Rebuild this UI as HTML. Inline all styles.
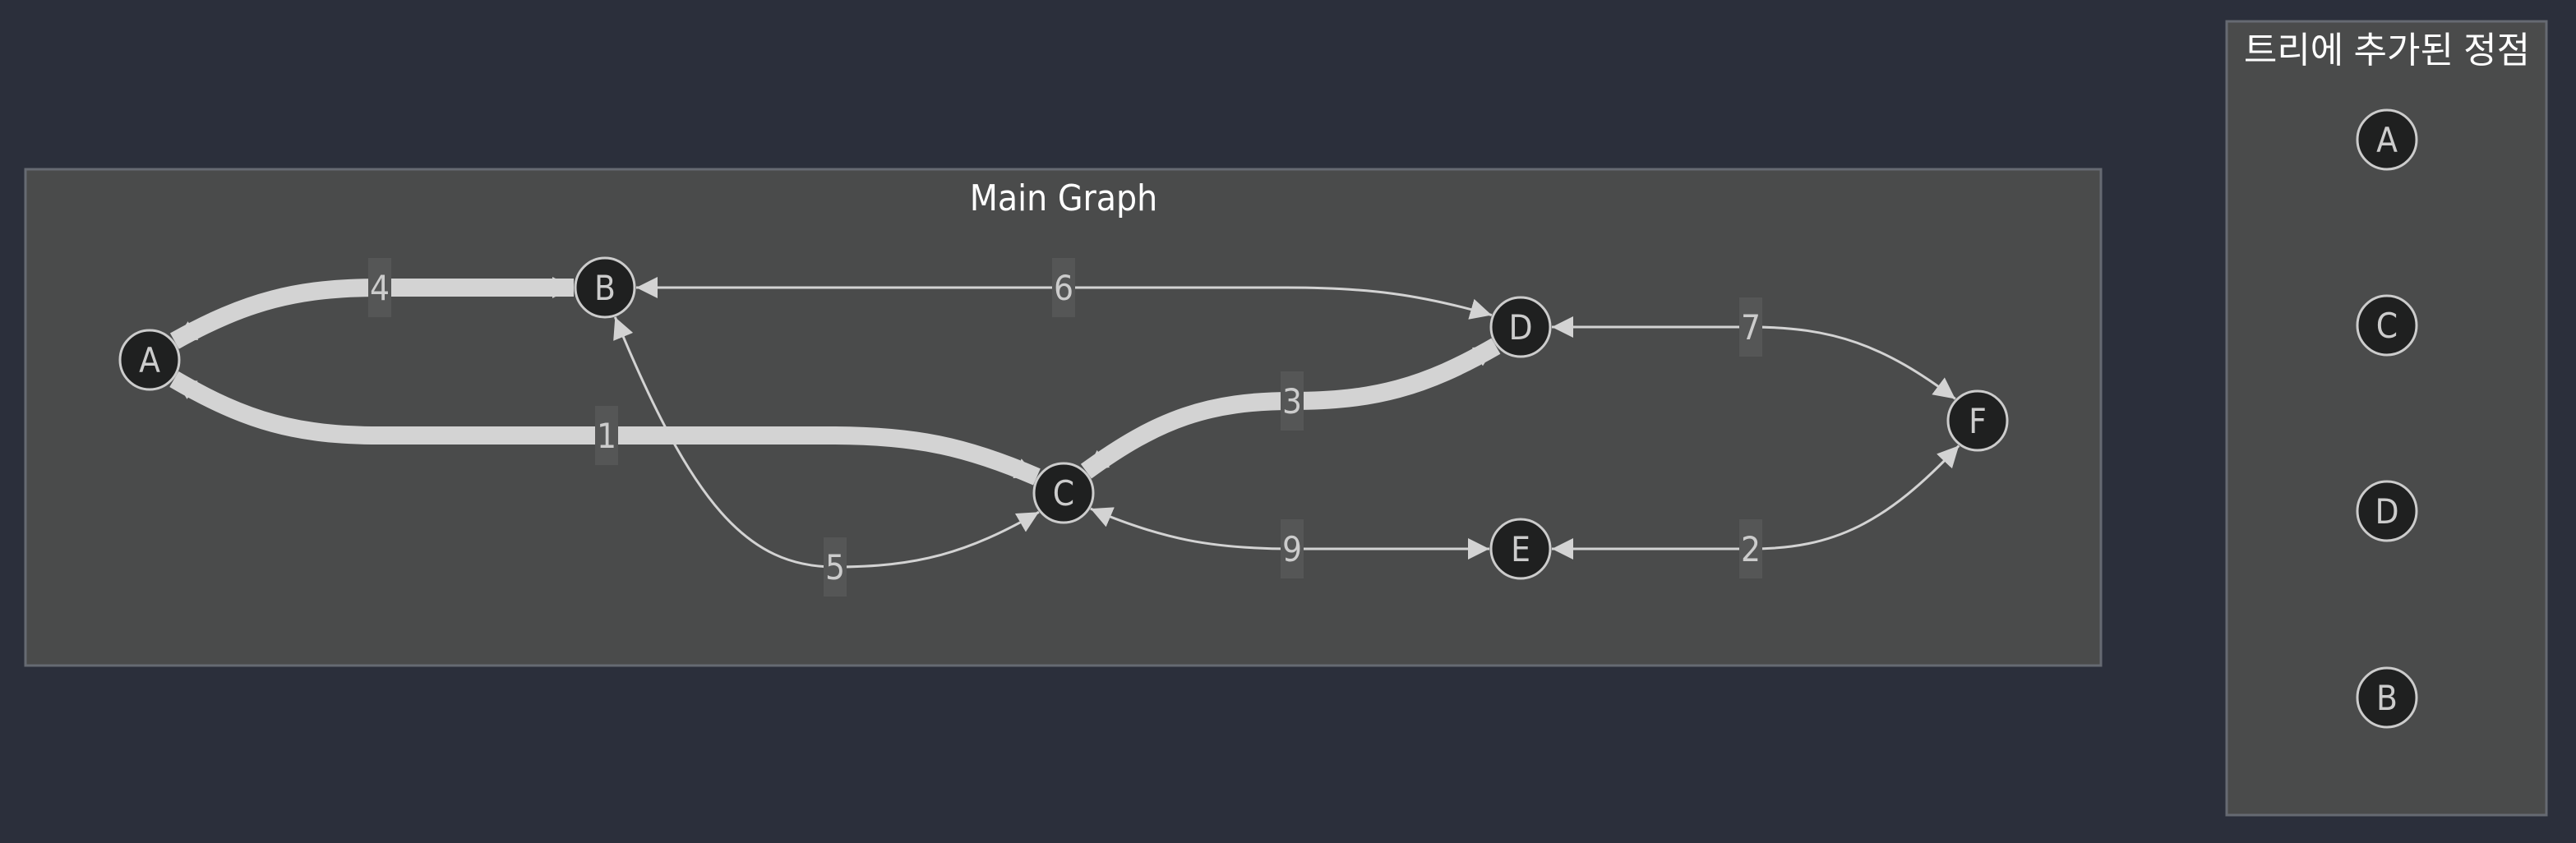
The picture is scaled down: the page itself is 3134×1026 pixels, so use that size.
<!DOCTYPE html>
<html><head><meta charset="utf-8">
<style>
html,body{margin:0;padding:0;background:#2b2f3b;}
svg{display:block;}
</style></head>
<body>
<svg id="chart" width="3134" height="1026" viewBox="0 0 3134 1026" xmlns="http://www.w3.org/2000/svg">
<defs>
<marker id="arr" markerUnits="userSpaceOnUse" viewBox="0 0 10 10" refX="10" refY="5" markerWidth="26" markerHeight="26" orient="auto-start-reverse">
<path d="M0,0 L10,5 L0,10 z" fill="#d3d3d3"/>
</marker>
</defs>
<rect x="0" y="0" width="3134" height="1026" fill="#2b2f3b"/>
<rect x="31" y="206" width="2525" height="604" fill="#4a4b4b" stroke="#666a72" stroke-width="3"/>
<text x="1294" y="256" text-anchor="middle" font-family="'DejaVu Sans Condensed', 'Liberation Sans Narrow', sans-serif" font-size="44" fill="#ffffff">Main Graph</text>
<rect x="2709" y="26" width="389" height="966" fill="#4a4b4b" stroke="#666a72" stroke-width="3"/>
<text x="2904" y="76" text-anchor="middle" font-family="'Liberation Sans', 'Noto Sans CJK KR', sans-serif" font-size="44" fill="#ffffff">트리에 추가된 정점</text>
<g id="edges"></g>
<g id="labels"></g>
<g id="nodes"></g>
<g id="tree"></g>
</svg>
<script>
const nodeIds = ['A','B','C','D','E','F'];
const nodeX = [182, 736, 1294, 1850, 1850, 2406];
const nodeY = [438, 350, 600, 398, 668, 512];
const edgeFrom = ['A','A','B','B','C','C','D','E'];
const edgeTo   = ['B','C','D','C','D','E','F','F'];
const edgeWeights = [4, 1, 6, 5, 3, 9, 7, 2];
const edgeInTree = [true, true, false, false, true, false, false, false];
const labelX = [462, 738, 1294, 1016, 1572, 1572, 2130, 2130];
const labelY = [350, 530, 350, 690, 488, 668, 398, 668];
const treeOrder = ['A','C','D','B'];
const treeY = [170, 396, 622, 849];

const NS='http://www.w3.org/2000/svg';
const R=36, CURVE=250;
function pos(id){const i=nodeIds.indexOf(id);return {x:nodeX[i],y:nodeY[i]};}
function mk(t,a){const e=document.createElementNS(NS,t);for(const k in a)e.setAttribute(k,a[k]);return e;}
function boundary(c,toward,off){const dx=toward.x-c.x,dy=toward.y-c.y,l=Math.hypot(dx,dy)||1;return {x:c.x+dx/l*off,y:c.y+dy/l*off};}
// node side -> label, curve then flat
function half(s,L){
  let dx=L.x-s.x; const sg=Math.sign(dx)||1;
  let end={x:Math.abs(dx)>CURVE+50? s.x+sg*CURVE : L.x, y:L.y};
  const cdx=end.x-s.x, dy=end.y-s.y;
  let d=`C ${s.x+cdx*0.35} ${s.y+dy*0.75}, ${s.x+cdx*0.6} ${end.y}, ${end.x} ${end.y}`;
  if(end.x!==L.x) d+=` L ${L.x} ${L.y}`;
  return d;
}
// label -> node side, flat then curve
function half2(L,t){
  let dx=t.x-L.x; const sg=Math.sign(dx)||1;
  let st={x:Math.abs(dx)>CURVE+50? t.x-sg*CURVE : L.x, y:L.y};
  let d='';
  if(st.x!==L.x) d+=`L ${st.x} ${st.y} `;
  const cdx=t.x-st.x, dy=t.y-st.y;
  d+=`C ${st.x+cdx*0.4} ${st.y}, ${st.x+cdx*0.65} ${st.y+dy*0.25}, ${t.x} ${t.y}`;
  return d;
}

const eg=document.getElementById('edges'), lg=document.getElementById('labels'), ng=document.getElementById('nodes'), tg=document.getElementById('tree');
for(let i=0;i<edgeFrom.length;i++){
  const a=pos(edgeFrom[i]), b=pos(edgeTo[i]), L={x:labelX[i],y:labelY[i]};
  const sgA=Math.sign(L.x-a.x)||1, sgB=Math.sign(b.x-L.x)||1;
  const spanA=Math.min(Math.abs(L.x-a.x),CURVE), spanB=Math.min(Math.abs(b.x-L.x),CURVE);
  const ctrlA={x:a.x+sgA*spanA*0.35,y:a.y+(L.y-a.y)*0.75};
  const ctrlB={x:b.x-sgB*spanB*0.35,y:L.y+(b.y-L.y)*0.25};
  const s=boundary(a,ctrlA,R+2), t=boundary(b,ctrlB,R+2);
  const d=`M ${s.x} ${s.y} ${half(s,L)} ${half2(L,t)}`;
  const p=mk('path',{d:d,fill:'none',stroke:'#d3d3d3','stroke-width':edgeInTree[i]?22:3,'marker-start':'url(#arr)','marker-end':'url(#arr)'});
  
  
  eg.appendChild(p);
  const r=mk('rect',{x:L.x-14,y:L.y-36,width:28,height:72,fill:'#555656'});
  
  
  lg.appendChild(r);
  const tx=mk('text',{x:L.x,y:L.y+15,'text-anchor':'middle','font-family':"'DejaVu Sans Condensed', 'Liberation Sans', sans-serif",'font-size':42,fill:'#cccccc'});
  tx.textContent=edgeWeights[i];
  
  
  lg.appendChild(tx);
}
function drawNode(g,x,y,id,prefix){
  const c=mk('circle',{cx:x,cy:y,r:R,fill:'#1f2020',stroke:'#cccccc','stroke-width':3});
  
  
  g.appendChild(c);
  const t=mk('text',{x:x,y:y+15,'text-anchor':'middle','font-family':"'DejaVu Sans Condensed', 'Liberation Sans', sans-serif",'font-size':42,fill:'#cccccc'});
  t.textContent=id;
  
  
  g.appendChild(t);
}
for(let i=0;i<nodeIds.length;i++) drawNode(ng,nodeX[i],nodeY[i],nodeIds[i],'graph');
for(let i=0;i<treeOrder.length;i++) drawNode(tg,2904,treeY[i],treeOrder[i],'tree');
</script>
</body></html>
